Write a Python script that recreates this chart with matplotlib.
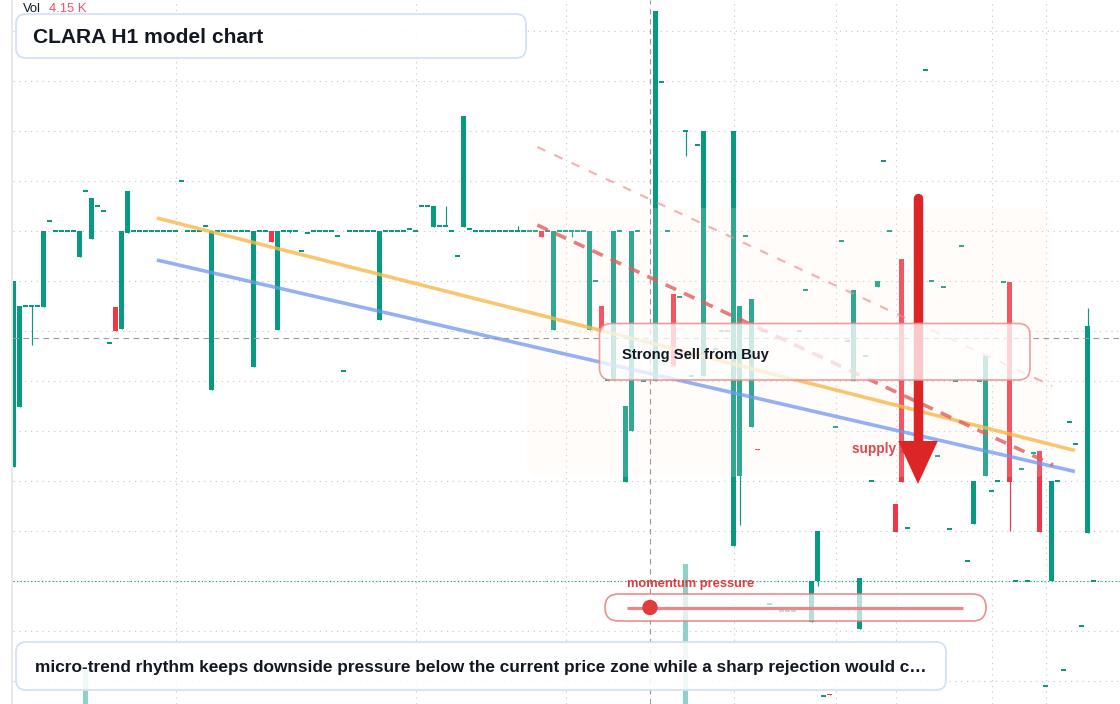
import numpy as np
import matplotlib
matplotlib.use("Agg")
import matplotlib.pyplot as plt
from matplotlib.patches import FancyBboxPatch, Polygon, Circle, Rectangle
from matplotlib.transforms import IdentityTransform

plt.rcParams['font.family'] = ['Liberation Sans', 'DejaVu Sans']

W, H = 1120, 704
UP = '#089981'
DOWN = '#f23645'
INK = '#131722'

# hourly bars (bar number, OHLC in price units); gaps = bars with no trade
bar_idx = [0, 1, 2, 3, 4, 5, 6, 7, 8, 9,
           10, 11, 12, 13, 14, 15, 16, 17, 18, 19,
           20, 21, 22, 23, 24, 25, 26, 27, 28, 29,
           30, 31, 32, 33, 34, 35, 36, 37, 38, 39,
           40, 41, 42, 43, 44, 45, 46, 47, 48, 49,
           50, 51, 52, 53, 54, 55, 56, 57, 58, 59,
           60, 61, 62, 63, 64, 65, 66, 67, 68, 69,
           70, 71, 72, 73, 74, 75, 76, 77, 78, 79,
           80, 81, 82, 83, 84, 85, 86, 87, 88, 89,
           90, 91, 92, 93, 94, 95, 96, 97, 98, 99,
           100, 101, 102, 103, 104, 105, 107, 108, 109,
           110, 111, 112, 113, 114, 115, 117, 118, 119,
           120, 121, 122, 123, 124, 125, 126, 128, 129,
           130, 131, 132, 133, 134, 135, 136, 137, 138, 139,
           140, 141, 142, 143, 144, 145, 146, 147, 148, 149,
           152, 153, 154, 155, 156, 157, 158, 159,
           160, 161, 162, 163, 164, 165, 166, 167, 168, 169,
           170, 171, 172, 173, 174, 175, 176, 177, 178, 179, 180]

opens = [0.764, 0.824, 0.925, 0.925, 0.925, 0.924, 1.010, 1.000, 1.000, 1.000,
         1.000, 0.974, 1.040, 0.992, 1.025, 1.020, 0.888, 0.924, 0.902, 0.998,
         1.000, 1.000, 1.000, 1.000, 1.000, 1.000, 1.000, 1.000, 1.050, 1.000,
         1.000, 1.000, 1.005, 0.841, 1.000, 1.000, 1.000, 1.000, 1.000, 1.000,
         0.864, 1.000, 1.000, 1.000, 0.901, 1.000, 1.000, 1.000, 0.980, 0.998,
         1.000, 1.000, 1.000, 1.000, 0.995, 0.860, 1.000, 1.000, 1.000, 1.000,
         1.000, 0.911, 1.000, 1.000, 1.000, 1.000, 1.002, 1.000, 1.025, 1.025,
         1.004, 1.005, 1.005, 1.000, 0.975, 1.004, 1.002, 1.000, 1.000, 1.000,
         1.000, 1.000, 1.000, 1.000, 1.000, 1.000, 1.000, 1.000, 1.000, 1.000,
         0.901, 1.000, 1.000, 1.000, 1.000, 1.000, 0.901, 0.950, 0.925, 0.851,
         0.851, 1.000, 0.749, 0.800, 1.000, 0.850, 0.850, 1.149, 1.000,
         0.937, 0.934, 1.100, 0.855, 1.086, 0.855, 0.882, 0.900, 0.900,
         0.685, 0.755, 0.995, 0.804, 0.782, 0.900, 0.627, 0.620, 0.620,
         0.620, 0.900, 0.941, 0.609, 0.650, 0.535, 0.537, 0.804, 0.990, 0.890,
         0.850, 0.602, 0.875, 0.750, 0.944, 1.070, 1.000, 0.727, 0.972, 0.703,
         1.161, 0.950, 0.775, 0.944, 0.702, 0.850, 0.985, 0.670,
         0.707, 0.850, 0.755, 0.740, 0.750, 0.949, 0.949, 0.650, 0.762, 0.650,
         0.778, 0.780, 0.545, 0.650, 0.750, 0.561, 0.809, 0.787, 0.605, 0.698, 0.650]

highs = [0.950, 0.925, 0.925, 0.925, 0.925, 1.000, 1.010, 1.000, 1.000, 1.000,
         1.000, 1.000, 1.040, 1.033, 1.025, 1.020, 0.888, 0.924, 1.000, 1.040,
         1.000, 1.000, 1.000, 1.000, 1.000, 1.000, 1.000, 1.000, 1.050, 1.000,
         1.000, 1.000, 1.005, 1.000, 1.000, 1.000, 1.000, 1.000, 1.000, 1.000,
         1.000, 1.000, 1.000, 1.000, 1.000, 1.000, 1.000, 1.000, 0.980, 0.998,
         1.000, 1.000, 1.000, 1.000, 0.995, 0.860, 1.000, 1.000, 1.000, 1.000,
         1.000, 1.000, 1.000, 1.000, 1.000, 1.000, 1.002, 1.000, 1.025, 1.025,
         1.025, 1.005, 1.025, 1.000, 0.975, 1.115, 1.002, 1.000, 1.000, 1.000,
         1.000, 1.000, 1.000, 1.000, 1.005, 1.000, 1.000, 1.000, 1.000, 1.000,
         1.000, 1.000, 1.000, 1.000, 1.000, 1.000, 1.000, 0.950, 0.925, 0.851,
         1.000, 1.000, 0.825, 1.000, 1.000, 0.850, 1.220, 1.149, 1.000,
         0.937, 0.934, 1.100, 0.855, 1.086, 1.100, 0.882, 0.900, 0.900,
         1.100, 0.925, 0.995, 0.932, 0.782, 0.900, 0.627, 0.620, 0.620,
         0.620, 0.900, 0.941, 0.650, 0.700, 0.535, 0.537, 0.804, 0.990, 0.890,
         0.941, 0.653, 0.875, 0.750, 0.950, 1.070, 1.000, 0.727, 0.972, 0.703,
         1.161, 0.950, 0.775, 0.944, 0.702, 0.850, 0.985, 0.670,
         0.750, 0.850, 0.875, 0.740, 0.750, 0.949, 0.949, 0.650, 0.762, 0.650,
         0.778, 0.780, 0.545, 0.750, 0.750, 0.561, 0.809, 0.787, 0.605, 0.923, 0.650]

lows = [0.764, 0.824, 0.925, 0.886, 0.925, 0.924, 1.010, 1.000, 1.000, 1.000,
        1.000, 0.974, 1.040, 0.992, 1.025, 1.020, 0.888, 0.900, 0.902, 0.998,
        1.000, 1.000, 1.000, 1.000, 1.000, 1.000, 1.000, 1.000, 1.050, 1.000,
        1.000, 1.000, 1.005, 0.841, 1.000, 1.000, 1.000, 1.000, 1.000, 1.000,
        0.864, 1.000, 1.000, 0.989, 0.901, 1.000, 0.998, 1.000, 0.980, 0.998,
        1.000, 1.000, 1.000, 1.000, 0.995, 0.860, 1.000, 1.000, 1.000, 1.000,
        1.000, 0.911, 1.000, 1.000, 1.000, 1.000, 1.002, 1.000, 1.025, 1.025,
        1.004, 1.005, 1.005, 1.000, 0.975, 1.004, 1.002, 1.000, 1.000, 1.000,
        1.000, 1.000, 1.000, 1.000, 1.000, 1.000, 1.000, 1.000, 0.994, 1.000,
        0.901, 1.000, 1.000, 0.994, 1.000, 1.000, 0.901, 0.950, 0.900, 0.851,
        0.851, 1.000, 0.749, 0.800, 1.000, 0.850, 0.850, 1.149, 1.000,
        0.865, 0.934, 1.075, 0.855, 1.086, 0.855, 0.882, 0.900, 0.900,
        0.685, 0.706, 0.995, 0.804, 0.781, 0.900, 0.627, 0.620, 0.620,
        0.620, 0.900, 0.941, 0.609, 0.645, 0.535, 0.536, 0.804, 0.990, 0.890,
        0.850, 0.602, 0.875, 0.750, 0.944, 1.070, 1.000, 0.699, 0.749, 0.703,
        1.161, 0.950, 0.775, 0.944, 0.702, 0.850, 0.985, 0.670,
        0.707, 0.850, 0.755, 0.740, 0.750, 0.949, 0.700, 0.650, 0.762, 0.650,
        0.778, 0.699, 0.545, 0.650, 0.750, 0.561, 0.809, 0.787, 0.605, 0.698, 0.650]

closes = [0.950, 0.925, 0.925, 0.925, 0.925, 1.000, 1.010, 1.000, 1.000, 1.000,
          1.000, 1.000, 1.040, 1.033, 1.025, 1.020, 0.888, 0.900, 1.000, 1.040,
          1.000, 1.000, 1.000, 1.000, 1.000, 1.000, 1.000, 1.000, 1.050, 1.000,
          1.000, 1.000, 1.005, 1.000, 1.000, 1.000, 1.000, 1.000, 1.000, 1.000,
          1.000, 1.000, 1.000, 0.989, 1.000, 1.000, 1.000, 1.000, 0.980, 0.998,
          1.000, 1.000, 1.000, 1.000, 0.995, 0.860, 1.000, 1.000, 1.000, 1.000,
          1.000, 1.000, 1.000, 1.000, 1.000, 1.000, 1.002, 1.000, 1.025, 1.025,
          1.025, 1.005, 1.005, 1.000, 0.975, 1.115, 1.002, 1.000, 1.000, 1.000,
          1.000, 1.000, 1.000, 1.000, 1.000, 1.000, 1.000, 1.000, 0.994, 1.000,
          1.000, 1.000, 1.000, 1.000, 1.000, 1.000, 1.000, 0.950, 0.900, 0.851,
          1.000, 1.000, 0.825, 1.000, 1.000, 0.850, 1.220, 1.149, 1.000,
          0.865, 0.934, 1.100, 0.855, 1.086, 1.100, 0.882, 0.900, 0.900,
          1.100, 0.925, 0.995, 0.932, 0.781, 0.900, 0.627, 0.620, 0.620,
          0.620, 0.900, 0.941, 0.650, 0.700, 0.535, 0.536, 0.804, 0.990, 0.890,
          0.941, 0.653, 0.875, 0.750, 0.950, 1.070, 1.000, 0.699, 0.749, 0.703,
          1.161, 0.950, 0.775, 0.944, 0.702, 0.850, 0.985, 0.670,
          0.750, 0.850, 0.875, 0.740, 0.750, 0.949, 0.749, 0.650, 0.762, 0.650,
          0.778, 0.699, 0.545, 0.750, 0.750, 0.561, 0.809, 0.787, 0.605, 0.905, 0.650]

# volume pane (only two bars register)
vol_idx = [12, 112]
vol_vals = [1000, 4150]

grid_prices = [0.55, 0.60, 0.65, 0.70, 0.75, 0.80, 0.85, 0.90, 0.95, 1.00, 1.05, 1.10, 1.15, 1.20]
grid_bars = [27, 67, 92, 120, 137, 147, 163, 172]

last_price = 0.650
cross_bar, cross_price = 106, 0.893

# drawings: (bar, price) anchors
orange_line = ([23.9, 176.9], [1.013, 0.7805])
blue_line = ([23.9, 176.9], [0.971, 0.7595])
dash_strong = ([87.3, 173.25], [1.006, 0.766])
dash_light = ([87.3, 173.1], [1.084, 0.845])
zone = (85.6, 0.754, 173.1, 1.023)
arrow_bar, arrow_top, arrow_neck, arrow_tip = 150.75, 1.033, 0.790, 0.747

fig = plt.figure(figsize=(W / 100, H / 100), dpi=100)
fig.patch.set_facecolor('white')
rect = [13 / W, 0, (W - 13) / W, 1]
ax_vol = fig.add_axes(rect, zorder=0)
ax = fig.add_axes(rect, zorder=1, sharex=ax_vol)
ax.patch.set_visible(False)

for a in (ax, ax_vol):
    for s in a.spines.values():
        s.set_visible(False)
    a.tick_params(length=0, labelleft=False, labelbottom=False)

ax.set_xlim(-1 / 12, 184.5 - 1 / 12)
ax.set_ylim(0.527, 1.231)
ax.set_autoscale_on(False)
ax_vol.set_ylim(0, 20900)
ax_vol.set_yticks([])

ax.set_yticks(grid_prices)
ax.set_xticks(grid_bars)
ax.grid(True, color='#c9ccd2', lw=0.8, ls=(0, (1.2, 4)))
ax.set_axisbelow(True)

# volume
ax_vol.bar(vol_idx, vol_vals, width=0.8, color=UP, alpha=0.45, lw=0)

# candles
x = np.array(bar_idx)
o = np.array(opens)
c = np.array(closes)
hi = np.array(highs)
lo = np.array(lows)
col = np.where(c >= o, UP, DOWN)
body_h = np.abs(c - o)
body_lo = np.minimum(o, c)
min_h = 0.0017
thin = body_h < min_h
body_lo = np.where(thin, (o + c) / 2 - min_h / 2, body_lo)
body_h = np.maximum(body_h, min_h)
ax.vlines(x, lo, hi, colors=col, lw=0.85, zorder=2)
ax.bar(x, body_h, bottom=body_lo, width=0.8, color=col, lw=0, zorder=2.1)

ax.axhline(last_price, color=UP, lw=0.8, ls=(0, (1, 2.2)), zorder=1.8)


def disp(xd, yd):
    return ax.transData.transform((xd, yd))


def px_box(x0, y0, x1, y1, r, fc, ec, alpha_fc, lw, z, ec_alpha=1.0):
    p = FancyBboxPatch((x0, H - y1), x1 - x0, y1 - y0,
                       boxstyle=f"round,pad=0,rounding_size={r}",
                       transform=IdentityTransform(), facecolor=matplotlib.colors.to_rgba(fc, alpha_fc),
                       edgecolor=matplotlib.colors.to_rgba(ec, ec_alpha), lw=lw, zorder=z, clip_on=False)
    ax.add_artist(p)
    return p


def px_text(x0, y0, s, z=12, **kw):
    ax.text(x0, H - y0, s, transform=IdentityTransform(), zorder=z, clip_on=False, **kw)


# highlighted zone
zx0, zy0 = disp(zone[0], zone[1])
zx1, zy1 = disp(zone[2], zone[3])
ax.add_artist(FancyBboxPatch((zx0, zy0), zx1 - zx0, zy1 - zy0,
                             boxstyle="round,pad=0,rounding_size=16",
                             transform=IdentityTransform(),
                             facecolor=matplotlib.colors.to_rgba('#fff3e6', 0.17),
                             edgecolor='none', zorder=3, clip_on=False))

# trend lines
ax.plot(*orange_line, color='#f7b84b', lw=2.6, alpha=0.8, solid_capstyle='butt', zorder=4)
ax.plot(*blue_line, color='#6e97f2', lw=2.6, alpha=0.75, solid_capstyle='butt', zorder=4)
ax.plot(*dash_strong, color='#e35d5d', lw=2.6, alpha=0.8, ls=(0, (3.2, 2.4)), zorder=4.2)
ax.plot(*dash_light, color='#f08a8a', lw=1.6, alpha=0.65, ls=(0, (4, 4.5)), zorder=4.2)

# crosshair
ax.axvline(cross_bar, color='#9598a1', lw=0.8, ls=(0, (5, 4)), zorder=5)
ax.axhline(cross_price, color='#9598a1', lw=0.8, ls=(0, (5, 4)), zorder=5)

# supply arrow
px_text(851.5, 452.5, 'supply zone', z=5.5, color='#e2464b', fontsize=9.8, fontweight='bold')
ax.plot([arrow_bar, arrow_bar], [arrow_top, arrow_neck], color='#dc2626', lw=6.8,
        solid_capstyle='round', zorder=6)
ax.add_patch(Polygon([(arrow_bar - 3.3, arrow_neck), (arrow_bar + 3.3, arrow_neck),
                      (arrow_bar, arrow_tip)], closed=True, color='#dc2626', lw=0, zorder=6))

# "Strong Sell from Buy" card
px_box(599.5, 323.5, 1030, 380, 12, 'white', '#ec8c8c', 0.76, 1.2, 8, 0.85)
px_text(622.5, 359.5, 'Strong Sell from Buy', z=9, color=INK, fontsize=10.6, fontweight='bold')

# momentum pressure slider
px_text(627, 586.5, 'momentum pressure', z=9, color='#e03a3e', fontsize=9.3, fontweight='bold')
px_box(605, 594, 986, 621, 13.5, 'white', '#e97a7a', 0.7, 1.2, 8, 0.85)
ax.plot([627, 963], [H - 607.5, H - 607.5], transform=IdentityTransform(), color='#ec7a7a',
        lw=2.3, alpha=0.9, solid_capstyle='butt', zorder=9, clip_on=False)
ax.add_artist(Circle((650, H - 607.5), 7, transform=IdentityTransform(), color='#e03c3c',
                     zorder=9.5, clip_on=False))

# title card and caption card
px_box(16, 14, 526, 58, 10, 'white', '#d3e0f6', 0.92, 1.3, 10)
px_text(32.7, 43, 'CLARA H1 model chart', z=11, color=INK, fontsize=15.1, fontweight='bold')
px_box(16, 642, 946, 690, 10, 'white', '#d3e0f6', 0.88, 1.3, 10)
px_text(35, 672, 'micro-trend rhythm keeps downside pressure below the current price zone '
        'while a sharp rejection would c\u2026', z=11, color=INK, fontsize=12.4, fontweight='bold')

# volume legend
px_text(23, 12.5, 'Vol', z=11, color=INK, fontsize=9.4)
px_text(49, 12.5, '4.15 K', z=11, color='#f7525f', fontsize=9.4)

# left scale strip
fig.add_artist(Rectangle((10.5, 0), 2.5, H, transform=IdentityTransform(), color='#e8e8e8', lw=0))

fig.savefig('out.png', dpi=100)
